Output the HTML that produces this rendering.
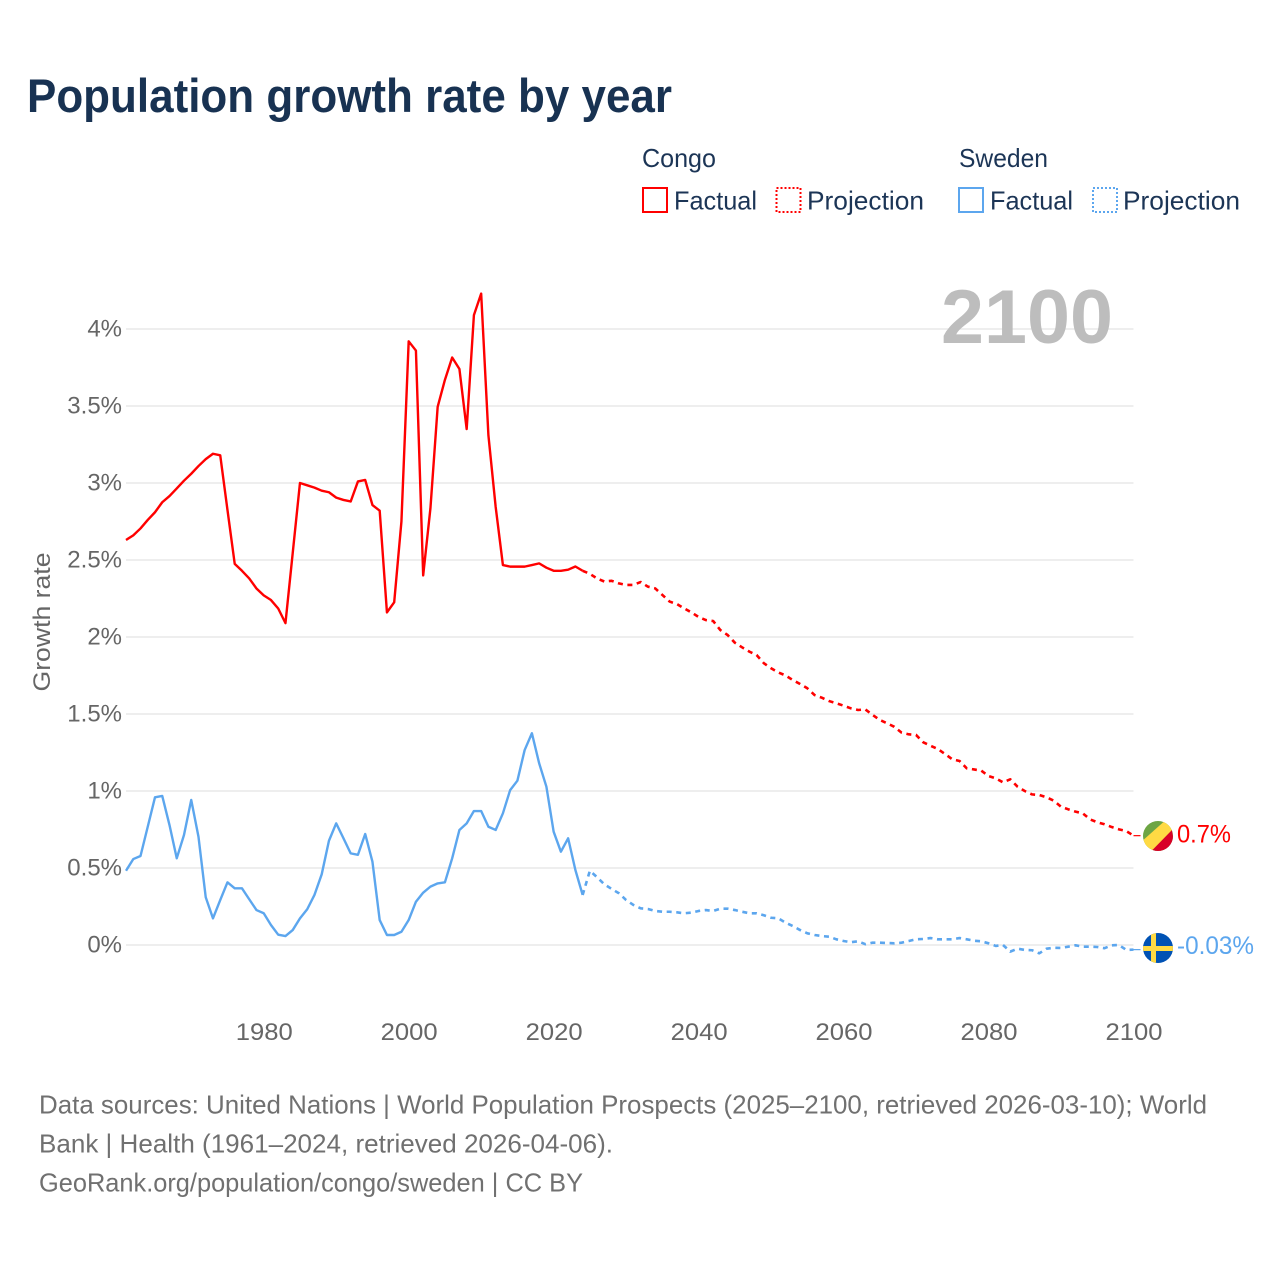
<!DOCTYPE html>
<html lang="en">
<head>
<meta charset="utf-8">
<title>Population growth rate by year</title>
<style>
html,body{margin:0;padding:0;background:#fff;}
svg{display:block;}
text{font-family:"Liberation Sans",sans-serif;}
</style>
</head>
<body>
<svg id="chart" width="1280" height="1280" viewBox="0 0 1280 1280" xmlns="http://www.w3.org/2000/svg">
  <rect x="0" y="0" width="1280" height="1280" fill="#ffffff"/>
  <text x="27" y="112" font-size="47" font-weight="700" fill="#183252" textLength="645" lengthAdjust="spacingAndGlyphs">Population growth rate by year</text>

  <g font-size="26" fill="#1c3556">
    <text x="642" y="167" textLength="74" lengthAdjust="spacingAndGlyphs">Congo</text>
    <text x="959" y="167" textLength="89" lengthAdjust="spacingAndGlyphs">Sweden</text>
    <rect x="643" y="188" width="24" height="24" fill="none" stroke="#ff0000" stroke-width="2"/>
    <text x="674" y="209.5" textLength="83" lengthAdjust="spacingAndGlyphs">Factual</text>
    <rect x="776.5" y="188" width="24" height="24" fill="none" stroke="#ff0000" stroke-width="2" stroke-dasharray="2,2"/>
    <text x="807" y="209.5" textLength="117" lengthAdjust="spacingAndGlyphs">Projection</text>
    <rect x="959" y="188" width="24" height="24" fill="none" stroke="#5ca6ee" stroke-width="2"/>
    <text x="990" y="209.5" textLength="83" lengthAdjust="spacingAndGlyphs">Factual</text>
    <rect x="1093" y="188" width="24" height="24" fill="none" stroke="#5ca6ee" stroke-width="2" stroke-dasharray="2,2"/>
    <text x="1123" y="209.5" textLength="117" lengthAdjust="spacingAndGlyphs">Projection</text>
  </g>

  <g id="grid"></g>
  <g id="yticks"></g>
  <g id="xticks"></g>
  <text x="1113" y="343" text-anchor="end" font-size="76" font-weight="700" fill="#bdbdbd" textLength="172" lengthAdjust="spacingAndGlyphs">2100</text>
  <text transform="translate(50,622) rotate(-90)" text-anchor="middle" font-size="24" fill="#666666" textLength="139" lengthAdjust="spacingAndGlyphs">Growth rate</text>
  <g id="series"></g>

  <defs>
    <clipPath id="clip-congo"><circle cx="1158" cy="836" r="15"/></clipPath>
    <clipPath id="clip-sweden"><circle cx="1158" cy="948" r="15"/></clipPath>
  </defs>
  <g clip-path="url(#clip-congo)">
    <rect x="1143" y="821" width="30" height="30" fill="#6da544"/>
    <polygon points="1141,842 1168,818 1176,826 1149,854" fill="#ffda44"/>
    <polygon points="1151.7,850.7 1172,830 1176,856 1150,856" fill="#d80027"/>
  </g>
  <g clip-path="url(#clip-sweden)">
    <rect x="1143" y="933" width="30" height="30" fill="#0052b4"/>
    <rect x="1151" y="933" width="5" height="30" fill="#ffda44"/>
    <rect x="1143" y="946" width="30" height="5" fill="#ffda44"/>
  </g>
  <g id="endlabels"></g>

  <g font-size="26" fill="#707070">
    <text x="39" y="1113.5" textLength="1168" lengthAdjust="spacingAndGlyphs">Data sources: United Nations | World Population Prospects (2025–2100, retrieved 2026-03-10); World</text>
    <text x="39" y="1152.5" textLength="574" lengthAdjust="spacingAndGlyphs">Bank | Health (1961–2024, retrieved 2026-04-06).</text>
    <text x="39" y="1191.5" textLength="544" lengthAdjust="spacingAndGlyphs">GeoRank.org/population/congo/sweden | CC BY</text>
  </g>
</svg>
<script>
var factualStartYear = 1961;
var projectionStartYear = 2024;
var yTickValues = [0, 0.5, 1, 1.5, 2, 2.5, 3, 3.5, 4];
var yTickLabels = ["0%", "0.5%", "1%", "1.5%", "2%", "2.5%", "3%", "3.5%", "4%"];
var xTickValues = [1980, 2000, 2020, 2040, 2060, 2080, 2100];
var xTickLabels = ["1980", "2000", "2020", "2040", "2060", "2080", "2100"];

var congoFactual = [2.63,2.66,2.705,2.76,2.81,2.875,2.915,2.965,3.015,3.06,3.11,3.155,3.19,3.18,2.825,2.475,2.43,2.38,2.315,2.27,2.24,2.185,2.09,2.545,3.0,2.985,2.97,2.95,2.94,2.905,2.89,2.88,3.01,3.02,2.857,2.82,2.16,2.225,2.75,3.92,3.86,2.40,2.835,3.495,3.67,3.815,3.74,3.35,4.09,4.23,3.31,2.845,2.467,2.457,2.457,2.457,2.467,2.478,2.45,2.43,2.43,2.437,2.458,2.43];
var congoProjection = [2.43,2.41,2.38,2.36,2.365,2.348,2.338,2.338,2.357,2.327,2.316,2.273,2.23,2.214,2.186,2.16,2.13,2.11,2.104,2.045,2.013,1.963,1.933,1.905,1.883,1.83,1.797,1.77,1.75,1.72,1.695,1.667,1.623,1.606,1.584,1.57,1.554,1.537,1.526,1.53,1.494,1.461,1.44,1.417,1.379,1.368,1.364,1.316,1.294,1.273,1.24,1.206,1.195,1.147,1.14,1.132,1.097,1.082,1.056,1.076,1.028,1.0,0.978,0.974,0.959,0.937,0.898,0.881,0.866,0.855,0.816,0.797,0.784,0.766,0.751,0.74,0.71];
var swedenFactual = [0.482,0.558,0.578,0.768,0.959,0.968,0.779,0.563,0.714,0.942,0.703,0.31,0.173,0.292,0.407,0.368,0.368,0.297,0.227,0.206,0.13,0.067,0.058,0.097,0.173,0.232,0.325,0.459,0.677,0.79,0.693,0.595,0.586,0.721,0.541,0.162,0.065,0.065,0.086,0.162,0.281,0.34,0.379,0.4,0.407,0.563,0.747,0.79,0.87,0.87,0.768,0.747,0.855,1.006,1.067,1.266,1.375,1.18,1.028,0.736,0.606,0.693,0.487,0.325];
var swedenProjection = [0.325,0.482,0.44,0.394,0.364,0.336,0.292,0.26,0.238,0.234,0.221,0.216,0.216,0.212,0.206,0.21,0.221,0.227,0.221,0.236,0.236,0.227,0.216,0.206,0.206,0.193,0.177,0.173,0.145,0.123,0.097,0.076,0.065,0.058,0.054,0.037,0.026,0.018,0.024,0.005,0.015,0.015,0.013,0.011,0.015,0.026,0.037,0.039,0.045,0.037,0.037,0.037,0.045,0.037,0.028,0.024,0.011,-0.006,0,-0.043,-0.024,-0.032,-0.034,-0.054,-0.024,-0.018,-0.019,-0.011,-0.002,-0.011,-0.011,-0.013,-0.021,-0.002,0,-0.032,-0.03];
var congoEndLabel = "0.7%";
var swedenEndLabel = "-0.03%";

var SVG_NS = "http://www.w3.org/2000/svg";
function xScale(year) { return 126 + (year - 1961) * (1133.5 - 126) / 139; }
function yScale(value) { return 945 - value * 154; }
function make(tag, parent, attrs) {
  var el = document.createElementNS(SVG_NS, tag);
  for (var k in attrs) { el.setAttribute(k, attrs[k]); }
  parent.appendChild(el);
  return el;
}
function linePath(values, startYear) {
  return values.map(function (v, i) {
    return (i ? "L" : "M") + xScale(startYear + i).toFixed(2) + " " + yScale(v).toFixed(2);
  }).join(" ");
}

var gridGroup = document.getElementById("grid");
var yGroup = document.getElementById("yticks");
yTickValues.forEach(function (v, i) {
  var line = make("line", gridGroup, {x1: 126, x2: 1133.5, y1: yScale(v), y2: yScale(v), stroke: "#e9e9e9", "stroke-width": 1.5});
  
  
  var t = make("text", yGroup, {x: 122, y: yScale(v) + 7.5, "text-anchor": "end", "font-size": 24, fill: "#666666"});
  
  
  t.textContent = yTickLabels[i];
});

var xGroup = document.getElementById("xticks");
xTickValues.forEach(function (year, i) {
  var t = make("text", xGroup, {x: xScale(year) - 28, y: 1040, "font-size": 24, fill: "#666666", textLength: 57, lengthAdjust: "spacingAndGlyphs"});
  
  
  t.textContent = xTickLabels[i];
});

var seriesGroup = document.getElementById("series");
var congoColor = "#ff0000";
var swedenColor = "#5ca6ee";
var common = {fill: "none", "stroke-width": 2.4, "stroke-linejoin": "round"};
function drawLine(values, startYear, color, dash) {
  var attrs = {d: linePath(values, startYear), stroke: color};
  for (var k in common) { attrs[k] = common[k]; }
  if (dash) {
    attrs["stroke-dasharray"] = "5,4.6";
    attrs["stroke-width"] = 2.6;
  }
  return make("path", seriesGroup, attrs);
}
var congoFactualLine = drawLine(congoFactual, factualStartYear, congoColor, false);


var swedenFactualLine = drawLine(swedenFactual, factualStartYear, swedenColor, false);


var congoProjectionLine = drawLine(congoProjection, projectionStartYear, congoColor, true);


var swedenProjectionLine = drawLine(swedenProjection, projectionStartYear, swedenColor, true);



var lastCongo = congoProjection[congoProjection.length - 1];
var lastSweden = swedenProjection[swedenProjection.length - 1];
var congoLeader = make("line", seriesGroup, {x1: xScale(2100), x2: xScale(2100) + 7, y1: yScale(lastCongo), y2: yScale(lastCongo), stroke: congoColor, "stroke-width": 1.2});


var swedenLeader = make("line", seriesGroup, {x1: xScale(2100), x2: xScale(2100) + 7, y1: yScale(lastSweden), y2: yScale(lastSweden), stroke: swedenColor, "stroke-width": 1.2});



var endGroup = document.getElementById("endlabels");
var congoEnd = make("text", endGroup, {x: 1177, y: yScale(lastCongo) + 7, "font-size": 25, fill: congoColor, textLength: 54, lengthAdjust: "spacingAndGlyphs"});


congoEnd.textContent = congoEndLabel;
var swedenEnd = make("text", endGroup, {x: 1177, y: yScale(lastSweden) + 4.5, "font-size": 25, fill: swedenColor, textLength: 77, lengthAdjust: "spacingAndGlyphs"});


swedenEnd.textContent = swedenEndLabel;
</script>
</body>
</html>
